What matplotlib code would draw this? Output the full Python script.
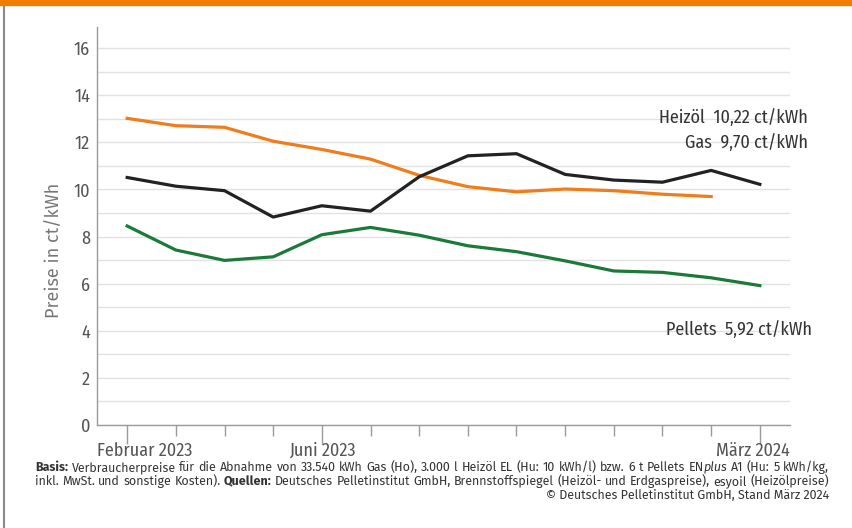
import matplotlib
matplotlib.use("Agg")
import matplotlib.pyplot as plt
from matplotlib.transforms import blended_transform_factory
from matplotlib.patches import Rectangle
from matplotlib.lines import Line2D

FAM = ['Fira Sans Condensed', 'DejaVu Sans']
FAM2 = ['Fira Sans', 'DejaVu Sans']

months = ["Feb 2023", "Mär 2023", "Apr 2023", "Mai 2023", "Jun 2023", "Jul 2023", "Aug 2023",
          "Sep 2023", "Okt 2023", "Nov 2023", "Dez 2023", "Jan 2024", "Feb 2024", "Mär 2024"]
heizoel = [10.51, 10.14, 9.95, 8.83, 9.31, 9.08, 10.54, 11.43, 11.52, 10.64, 10.40, 10.31, 10.81, 10.22]
gas = [13.02, 12.71, 12.64, 12.05, 11.70, 11.29, 10.60, 10.12, 9.90, 10.02, 9.95, 9.80, 9.70]
pellets = [8.45, 7.43, 6.99, 7.14, 8.08, 8.39, 8.06, 7.61, 7.36, 6.97, 6.54, 6.48, 6.25, 5.92]
tick_labels = {0: "Februar 2023", 4: "Juni 2023", 13: "März 2024"}
end_labels = ["Heizöl  10,22 ct/kWh", "Gas  9,70 ct/kWh", "Pellets  5,92 ct/kWh"]

fig = plt.figure(figsize=(8.52, 5.28), dpi=100)
fig.patch.set_facecolor('white')
ax = fig.add_axes([97/852, 1-425/528, (790-97)/852, (425-27)/528])

ax.plot(range(len(gas)), gas, color='#ef7d1b', lw=2.3, solid_joinstyle='round', zorder=3)
ax.plot(range(len(heizoel)), heizoel, color='#222222', lw=2.3, solid_joinstyle='round', zorder=4)
ax.plot(range(len(pellets)), pellets, color='#1b7a3a', lw=2.3, solid_joinstyle='round', zorder=3)

ax.set_xlim(-0.62, 13.62)
ax.set_ylim(0, 16.9)
ax.set_yticks(range(0, 17, 2))
ax.set_yticks(range(1, 17, 2), minor=True)
ax.grid(axis='y', which='both', color='#e2e2e2', lw=1.0, zorder=0)
ax.tick_params(axis='y', which='both', length=0, pad=5, labelsize=13, labelcolor='#555555')
for lab in ax.get_yticklabels():
    lab.set_family(FAM)

ax.set_xticks([0, 4, 13])
ax.set_xticks(range(len(months)), minor=True)
ax.set_xticklabels([])
ax.tick_params(axis='x', which='major', length=14, width=1, color='#9a9a9a')
ax.tick_params(axis='x', which='minor', length=8, width=1, color='#9a9a9a')

for s in ['top', 'right']:
    ax.spines[s].set_visible(False)
for s in ['left', 'bottom']:
    ax.spines[s].set_color('#9a9a9a')
    ax.spines[s].set_linewidth(1.0)

tr = blended_transform_factory(ax.transData, ax.transAxes)
ly = -0.042
ax.text(-0.62, ly, tick_labels[0], transform=tr, ha='left', va='top', fontsize=13, color='#555555', family=FAM)
ax.text(4, ly, tick_labels[4], transform=tr, ha='center', va='top', fontsize=13, color='#555555', family=FAM)
ax.text(13.62, ly, tick_labels[13], transform=tr, ha='right', va='top', fontsize=13, color='#555555', family=FAM)

fig.text(54/852, 1-250/528, "Preise in ct/kWh", rotation=90, ha='center', va='center', fontsize=13, color='#777777', family=FAM2)

fig.text(808/852, 1-118/528, end_labels[0], ha='right', va='center', fontsize=13, color='#333333', family=FAM)
fig.text(808/852, 1-143/528, end_labels[1], ha='right', va='center', fontsize=13, color='#333333', family=FAM)
fig.text(812/852, 1-330/528, end_labels[2], ha='right', va='center', fontsize=13, color='#333333', family=FAM)

# frame decorations
fig.patches.append(Rectangle((0, 1-5/528), 1, 5/528, transform=fig.transFigure, color='#f07d00', zorder=10))
fig.lines.append(Line2D([3.5/852, 3.5/852], [0, 1], transform=fig.transFigure, color='#8a8a8a', lw=1.5))

# footer (justified lines)
col = '#333333'
N, B, I = ('normal', 'normal'), ('bold', 'normal'), ('normal', 'italic')
line1 = [[("Basis:", B)]] + [[(w, N)] for w in
         "Verbraucherpreise für die Abnahme von 33.540 kWh Gas (Ho), 3.000 l Heizöl EL (Hu: 10 kWh/l) bzw. 6 t Pellets".split()] \
        + [[("EN", N), ("plus", I)]] + [[(w, N)] for w in "A1 (Hu: 5 kWh/kg,".split()]
line2 = [[(w, N)] for w in "inkl. MwSt. und sonstige Kosten).".split()] + [[("Quellen:", B)]] + \
        [[(w, N)] for w in "Deutsches Pelletinstitut GmbH, Brennstoffspiegel (Heizöl- und Erdgaspreise), esyoil (Heizölpreise)".split()]
line3 = "© Deutsches Pelletinstitut GmbH, Stand März 2024"

renderer = fig.canvas.get_renderer()
x0, x1 = 35, 829
FF = FAM2

def measure(words, fs):
    tot = 0
    for word in words:
        for txt, (wt, st) in word:
            t = fig.text(0, 0, txt, fontsize=fs, weight=wt, style=st, family=FF)
            tot += t.get_window_extent(renderer).width
            t.remove()
    sp = fig.text(0, 0, "a a", fontsize=fs, family=FF)
    a = fig.text(0, 0, "aa", fontsize=fs, family=FF)
    spw = sp.get_window_extent(renderer).width - a.get_window_extent(renderer).width
    sp.remove(); a.remove()
    return tot + spw * (len(words) - 1)

fs = 8.0 * (x1 - x0) / measure(line1, 8.0)

def justify(words, ybase):
    arts = []
    widths = []
    for word in words:
        pieces = []
        w = 0
        for txt, (wt, st) in word:
            t = fig.text(0, 1 - ybase/528, txt, ha='left', va='baseline', fontsize=fs, weight=wt, style=st,
                         color=col, family=FF)
            pw = t.get_window_extent(renderer).width
            pieces.append((t, w))
            w += pw
        arts.append(pieces)
        widths.append(w)
    gap = (x1 - x0 - sum(widths)) / (len(words) - 1)
    x = x0
    for pieces, w in zip(arts, widths):
        for t, off in pieces:
            t.set_x((x + off) / 852)
        x += w + gap

justify(line1, 471)
justify(line2, 485)
fig.text(x1/852, 1-499/528, line3, ha='right', va='baseline', fontsize=fs, color=col, family=FF)

fig.savefig("out.png", dpi=100)
